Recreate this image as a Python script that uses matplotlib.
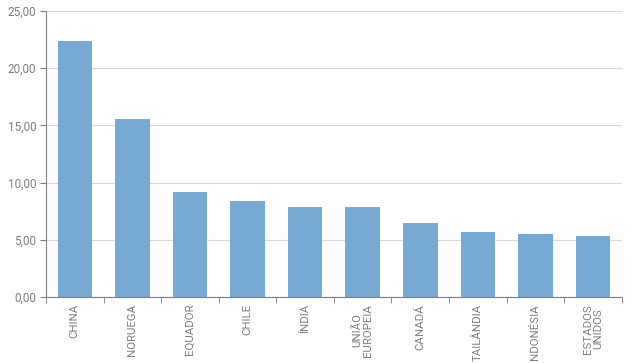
import numpy as np
import matplotlib.pyplot as plt
from matplotlib.ticker import FuncFormatter, FixedLocator

paises = ['CHINA', 'NORUEGA', 'EQUADOR', 'CHILE', 'ÍNDIA', 'UNIÃO\nEUROPEIA',
          'CANADÁ', 'TAILÂNDIA', 'INDONÉSIA', 'ESTADOS\nUNIDOS']
valores = [22.38, 15.56, 9.18, 8.42, 7.89, 7.84, 6.50, 5.68, 5.50, 5.33]

plt.rcParams['font.family'] = ['Roboto', 'DejaVu Sans']
cinza = '#7f7f7f'

fig = plt.figure(figsize=(6.41, 3.63), dpi=100)
ax = fig.add_axes([0.0718, 0.1818, 0.8982, 0.7879])

x = np.arange(len(paises))
ax.bar(x, valores, width=0.6, color='#77a9d5', zorder=3)

ax.set_xlim(-0.5, len(paises) - 0.5)
ax.set_ylim(0, 25)
ax.set_yticks(np.arange(0, 26, 5))
ax.yaxis.set_major_formatter(FuncFormatter(lambda v, p: f'{v:.2f}'.replace('.', ',')))
ax.grid(axis='y', color='#d9d9d9', linewidth=0.8, zorder=0)

ax.set_xticks(x)
ax.set_xticklabels(paises, rotation=90, va='top', ha='center', linespacing=1.1)
ax.xaxis.set_minor_locator(FixedLocator(np.arange(-0.5, len(paises), 1)))
ax.tick_params(axis='x', which='major', length=0, pad=5, labelsize=8.2, labelcolor=cinza)
ax.tick_params(axis='x', which='minor', length=4, color=cinza, direction='out')
ax.tick_params(axis='y', length=4, color=cinza, labelsize=8.5, labelcolor=cinza, pad=3)

for s in ['top', 'right']:
    ax.spines[s].set_visible(False)
for s in ['left', 'bottom']:
    ax.spines[s].set_color(cinza)
    ax.spines[s].set_linewidth(0.8)

fig.savefig('out.png', dpi=100)
